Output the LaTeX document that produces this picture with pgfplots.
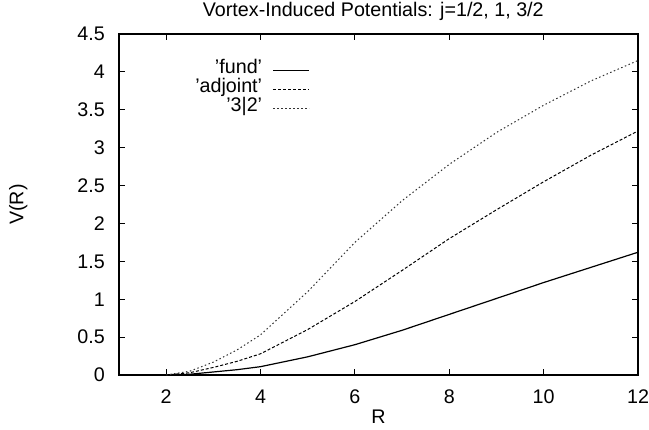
\documentclass[border=0pt]{standalone}
\usepackage{pgfplots}
\pgfplotsset{compat=1.18}
\usepackage{fontspec}
\setmainfont{Liberation Sans}

\newcommand{\gpfont}{\fontsize{19.7bp}{19bp}\selectfont}

\begin{document}
\begin{tikzpicture}[font=\gpfont]
\path[use as bounding box] (-119bp,-55bp) rectangle (530bp,375bp);
\begin{axis}[
    at={(0,0)}, anchor=south west,
    scale only axis,
    width=519bp, height=341bp,
    xmin=1, xmax=12,
    ymin=0, ymax=4.5,
    xtick={2,4,6,8,10,12},
    ytick={0,0.5,...,4.5},
    yticklabels={0,0.5,1,1.5,2,2.5,3,3.5,4,4.5},
    tick align=inside,
    major tick length=6bp,
    tick style={black, line width=0.9bp},
    axis line style={line width=1.1bp},
    /pgf/number format/assume math mode=true,
    ticklabel style={font=\gpfont, inner sep=0pt},
    xticklabel style={anchor=base, yshift=-28bp},
    yticklabel style={anchor=east, xshift=-14bp},
    title={Vortex-Induced Potentials: j=1/2, 1, 3/2},
    title style={at={(axis description cs:0.49,1.0331)}, anchor=base, inner sep=0pt, font=\gpfont},
    xlabel={R},
    ylabel={V(R)},
    every axis x label/.style={at={(axis description cs:0.5,-0.1408)}, anchor=base, inner sep=0pt, font=\gpfont},
    every axis y label/.style={at={(axis description cs:-0.1844,0.5)}, anchor=base, rotate=90, inner sep=0pt, font=\gpfont},
    legend plot pos=right,
    legend cell align=right,
    legend image code/.code={\path (0bp,0bp); \draw[#1] (7bp,0bp) -- (43bp,0bp);},
    legend style={at={(axis description cs:0.368,0.922)}, anchor=north east,
        draw=none, fill=none, inner sep=0pt, row sep=0bp, column sep=0bp,
        font=\gpfont,
        nodes={inner xsep=3.5bp, inner ysep=0pt, text height=13bp, text depth=6bp}},
]
% fund
\addplot[black, line width=1.2bp] coordinates {
    (2,0) (2.5,0.01) (3,0.04) (3.5,0.07) (4,0.11) (5,0.24) (6,0.40) (7,0.59)
    (8,0.80) (9,1.01) (10,1.22) (11,1.42) (12,1.62)
}; \addlegendentry{'fund'}

% adjoint
\addplot[black, line width=1bp, dash pattern=on 3bp off 2bp] coordinates {
    (2,0) (2.5,0.03) (3,0.10) (3.5,0.18) (4,0.28) (5,0.60) (6,0.97) (7,1.38)
    (8,1.80) (9,2.18) (10,2.55) (11,2.90) (12,3.22)
}; \addlegendentry{'adjoint'}

% 3|2
\addplot[black!80, line width=1bp, dash pattern=on 1.5bp off 2.5bp] coordinates {
    (2,0) (2.5,0.05) (3,0.17) (3.5,0.33) (4,0.53) (5,1.10) (6,1.75) (7,2.30)
    (8,2.78) (9,3.20) (10,3.56) (11,3.88) (12,4.15)
}; \addlegendentry{'3|2'}
\end{axis}
\end{tikzpicture}
\end{document}
